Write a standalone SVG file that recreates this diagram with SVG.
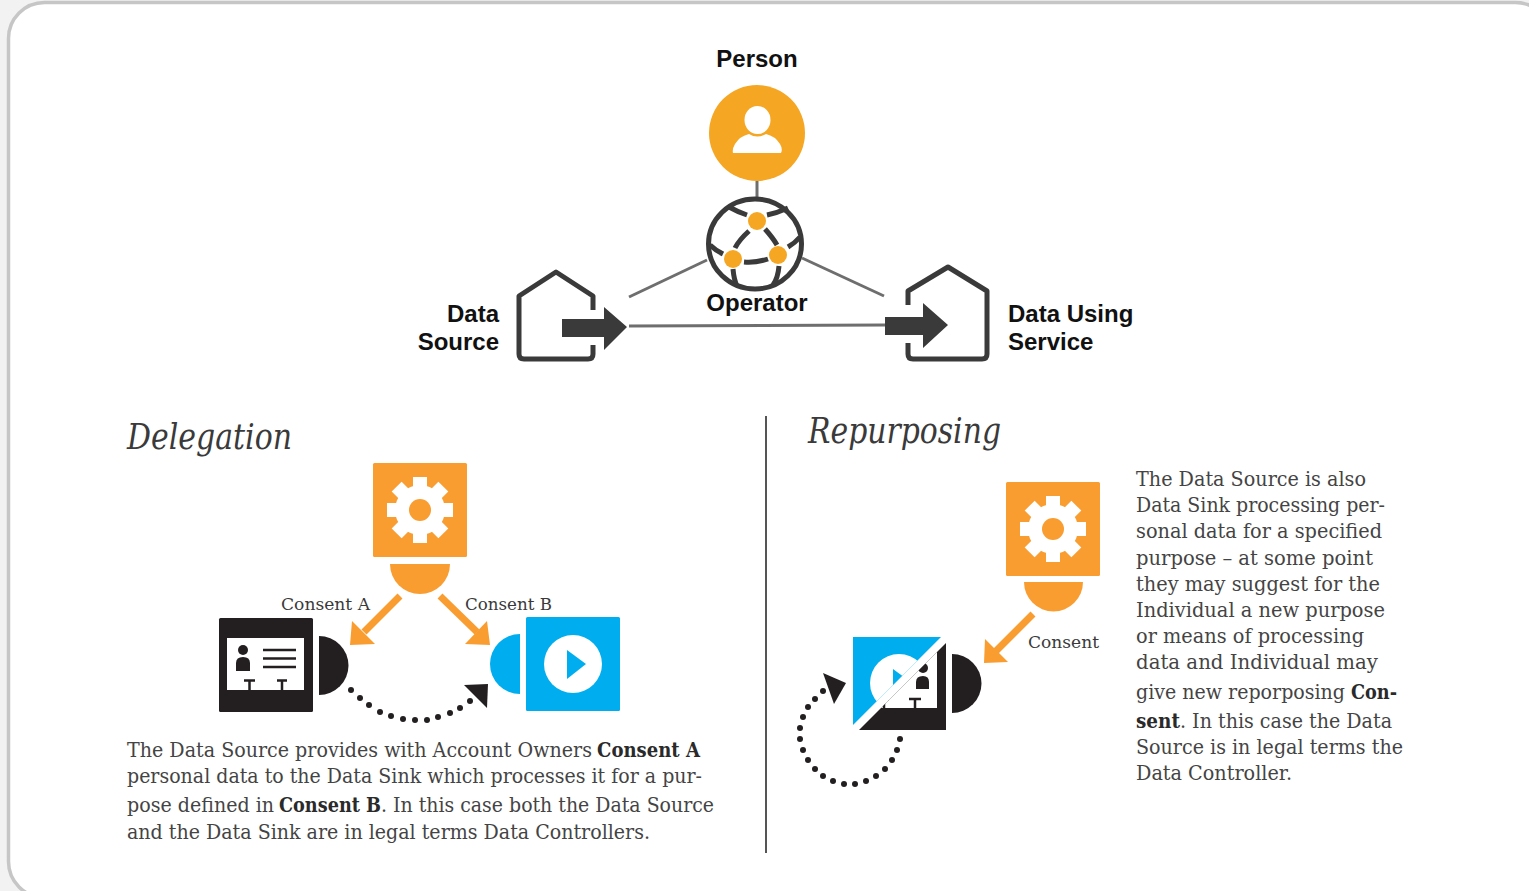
<svg xmlns="http://www.w3.org/2000/svg" width="1529" height="891" viewBox="0 0 1529 891">
<style>
.lb{font-family:"Liberation Sans",Arial,sans-serif;font-weight:700;font-size:24px;fill:#111}
.h{font-family:"DejaVu Serif","Liberation Serif",serif;font-style:italic;font-size:35px;fill:#3a3a3a}
.b{font-family:"DejaVu Serif","Liberation Serif",serif;font-size:19.5px;fill:#444}
.bb{font-weight:700;fill:#2a2a2a}
.c{font-family:"DejaVu Serif","Liberation Serif",serif;font-size:17px;fill:#3a3a3a}
.o{fill:#f99d31}.k{fill:#231f20}.u{fill:#00aeef}.w{fill:#fff}
.g{fill:none;stroke:#6e6e6e;stroke-width:3}
.s{fill:none;stroke:#3a3a3a;stroke-width:5;stroke-linejoin:round;stroke-linecap:butt}
.a{fill:#f99d31;stroke:none}
.sh{stroke:#f99d31;stroke-width:7;fill:none}
.d{fill:#231f20}
</style>
<defs>
<g id="gear">
<circle r="25" class="w"/>
<g class="w">
<rect x="-7" y="-33" width="14" height="66"/>
<rect x="-7" y="-33" width="14" height="66" transform="rotate(45)"/>
<rect x="-7" y="-33" width="14" height="66" transform="rotate(90)"/>
<rect x="-7" y="-33" width="14" height="66" transform="rotate(135)"/>
</g>
<circle r="11" class="o"/>
</g>
<clipPath id="blueTri"><polygon points="853,637 941,637 853,725"/></clipPath>
<clipPath id="blackTri"><polygon points="946,643 946,730 859,730"/></clipPath>
</defs>
<rect width="1529" height="891" fill="#f2f2f2"/>
<rect id="panel" x="8.500" y="2.500" width="1543" height="895" rx="36" fill="#fff" stroke="#c6c6c6" stroke-width="3.500"/>

<g id="connectors">
<path class="g" d="M757 181V198"/>
<path class="g" d="M629 297L707 260"/>
<path class="g" d="M802 258L884 296"/>
<path class="g" d="M629 326L885 325"/>
<path class="sh" d="M400 596L364 632"/>
<polygon class="a" points="352,621 375,644 350,645"/>
<path class="sh" d="M440 596L477 632"/>
<polygon class="a" points="487,621 465,644 490,645"/>
<path class="sh" d="M1033 614L996 651"/>
<polygon class="a" points="985,639 1008,662 984,663"/>
<g class="d">
<circle cx="351" cy="690" r="3"/><circle cx="360" cy="698" r="3"/><circle cx="369" cy="705" r="3"/><circle cx="380" cy="712" r="3"/><circle cx="391" cy="716" r="3"/><circle cx="403" cy="719" r="3"/><circle cx="415" cy="720" r="3"/><circle cx="427" cy="720" r="3"/><circle cx="438" cy="717" r="3"/><circle cx="450" cy="713" r="3"/><circle cx="460" cy="708" r="3"/><circle cx="470" cy="701" r="3"/>
<polygon points="464,685 488,684 487,708"/>
<circle cx="823" cy="691" r="3"/><circle cx="815" cy="699" r="3"/><circle cx="808" cy="707" r="3"/><circle cx="803" cy="717" r="3"/><circle cx="800" cy="728" r="3"/><circle cx="800" cy="739" r="3"/><circle cx="803" cy="750" r="3"/><circle cx="808" cy="760" r="3"/><circle cx="815" cy="769" r="3"/><circle cx="823" cy="776" r="3"/><circle cx="833" cy="781" r="3"/><circle cx="844" cy="784" r="3"/><circle cx="855" cy="784" r="3"/><circle cx="866" cy="781" r="3"/><circle cx="876" cy="776" r="3"/><circle cx="885" cy="769" r="3"/><circle cx="892" cy="760" r="3"/><circle cx="897" cy="750" r="3"/><circle cx="900" cy="739" r="3"/>
<polygon points="823,673 846,683 834,704"/>
</g>
</g>

<g id="person">
<circle cx="757" cy="133" r="48" fill="#f5a623"/>
<ellipse cx="757.500" cy="120" rx="13" ry="14" class="w"/>
<path class="w" d="M733 153Q732 149 735 144Q740 136 749 134Q757 139 766 134Q775 136 780 144Q783 149 781 153Z"/>
<text class="lb" x="757" y="67" text-anchor="middle">Person</text>
</g>

<g id="operator">
<ellipse cx="755" cy="244" rx="46.500" ry="45" fill="#fff" stroke="#3a3a3a" stroke-width="5"/>
<g fill="none" stroke="#3a3a3a" stroke-width="5">
<path d="M729 207Q738 212 747 215"/>
<path d="M767 215Q777 213 788 208"/>
<path d="M749 231Q739 240 735 248"/>
<path d="M765 229Q773 238 777 245"/>
<path d="M744 262Q756 263 768 259"/>
<path d="M723 254Q715 250 710 245"/>
<path d="M788 247Q795 243 800 237"/>
<path d="M733 269Q734 280 737 286"/>
<path d="M779 266Q778 278 773 285"/>
</g>
<g fill="#f5a623">
<circle cx="757" cy="221" r="9"/>
<circle cx="733" cy="259" r="9"/>
<circle cx="778" cy="255" r="9"/>
</g>
<text class="lb" x="757" y="311" text-anchor="middle">Operator</text>
</g>

<g id="data-source">
<path class="s" d="M593 310V296L556 272L519 296V354Q519 359 524 359H588Q593 359 593 354V345"/>
<polygon fill="#3a3a3a" points="562,319 604,319 604,307 627,327 604,350 604,337 562,337"/>
<text class="lb" x="499" y="322" text-anchor="end">Data</text>
<text class="lb" x="499" y="350" text-anchor="end">Source</text>
</g>

<g id="data-using-service">
<path class="s" d="M908 305V291L948 267L987 291V354Q987 359 982 359H913Q908 359 908 354V343"/>
<polygon fill="#3a3a3a" points="885,317 923,317 923,303 948,325 923,348 923,335 885,335"/>
<text class="lb" x="1008" y="322">Data Using</text>
<text class="lb" x="1008" y="350">Service</text>
</g>

<path id="divider" d="M766 416V853" stroke="#555" stroke-width="2" fill="none"/>

<g id="delegation">
<text class="h" x="127" y="449" textLength="165" lengthAdjust="spacingAndGlyphs">Delegation</text>
<text class="b" x="127" y="757" textLength="465" lengthAdjust="spacingAndGlyphs">The Data Source provides with Account Owners</text>
<text class="b bb" x="597" y="757" textLength="103" lengthAdjust="spacingAndGlyphs">Consent A</text>
<text class="b" x="127" y="783" textLength="575" lengthAdjust="spacingAndGlyphs">personal data to the Data Sink which processes it for a pur-</text>
<text class="b" x="127" y="812" textLength="147" lengthAdjust="spacingAndGlyphs">pose defined in</text>
<text class="b bb" x="279" y="812" textLength="102" lengthAdjust="spacingAndGlyphs">Consent B</text>
<text class="b" x="381" y="812" textLength="333" lengthAdjust="spacingAndGlyphs">. In this case both the Data Source</text>
<text class="b" x="127" y="839" textLength="523" lengthAdjust="spacingAndGlyphs">and the Data Sink are in legal terms Data Controllers.</text>
</g>

<g id="controller-a">
<rect x="373" y="463" width="94" height="94" rx="1.500" class="o"/>
<use href="#gear" x="420" y="510"/>
<path class="o" d="M390 564H450A30 30 0 0 1 390 564Z"/>
</g>
<text class="c" x="281" y="610" textLength="89" lengthAdjust="spacingAndGlyphs">Consent A</text>
<text class="c" x="465" y="610" textLength="87" lengthAdjust="spacingAndGlyphs">Consent B</text>

<g id="data-source-a">
<rect x="219" y="618" width="94" height="94" rx="1.500" class="k"/>
<rect x="227" y="638" width="77" height="52" class="w"/>
<circle cx="243" cy="650" r="5" class="k"/>
<path class="k" d="M236 671V663Q236 657 243 657Q250 657 250 663V671Z"/>
<path d="M263 650H296M263 658.500H296M263 667H296" stroke="#231f20" stroke-width="2.500" fill="none"/>
<path d="M244 680.500H255M249.500 680.500V690M277 680.500H287M282 680.500V690" stroke="#231f20" stroke-width="2.500" fill="none"/>
<path class="k" d="M319 636A29.500 29.500 0 0 1 319 695Z"/>
</g>

<g id="data-sink-b">
<rect x="526" y="617" width="94" height="94" rx="1.500" class="u"/>
<circle cx="573" cy="664" r="29" class="w"/>
<polygon class="u" points="567,650 586,664 567,679"/>
<path class="u" d="M520 634A30 30 0 0 0 520 694Z"/>
</g>

<g id="repurposing">
<text class="h" x="808" y="443" textLength="193" lengthAdjust="spacingAndGlyphs">Repurposing</text>
<text class="b" x="1136" y="486" textLength="230" lengthAdjust="spacingAndGlyphs">The Data Source is also</text>
<text class="b" x="1136" y="512" textLength="249" lengthAdjust="spacingAndGlyphs">Data Sink processing per-</text>
<text class="b" x="1136" y="538" textLength="246" lengthAdjust="spacingAndGlyphs">sonal data for a specified</text>
<text class="b" x="1136" y="565" textLength="237" lengthAdjust="spacingAndGlyphs">purpose – at some point</text>
<text class="b" x="1136" y="591" textLength="244" lengthAdjust="spacingAndGlyphs">they may suggest for the</text>
<text class="b" x="1136" y="617" textLength="249" lengthAdjust="spacingAndGlyphs">Individual a new purpose</text>
<text class="b" x="1136" y="643" textLength="228" lengthAdjust="spacingAndGlyphs">or means of processing</text>
<text class="b" x="1136" y="669" textLength="242" lengthAdjust="spacingAndGlyphs">data and Individual may</text>
<text class="b" x="1136" y="699" textLength="209" lengthAdjust="spacingAndGlyphs">give new reporposing</text>
<text class="b bb" x="1351" y="699" textLength="46" lengthAdjust="spacingAndGlyphs">Con-</text>
<text class="b bb" x="1136" y="728" textLength="44" lengthAdjust="spacingAndGlyphs">sent</text>
<text class="b" x="1180" y="728" textLength="212" lengthAdjust="spacingAndGlyphs">. In this case the Data</text>
<text class="b" x="1136" y="754" textLength="267" lengthAdjust="spacingAndGlyphs">Source is in legal terms the</text>
<text class="b" x="1136" y="780" textLength="156" lengthAdjust="spacingAndGlyphs">Data Controller.</text>
</g>

<g id="controller-r">
<rect x="1006" y="482" width="94" height="94" rx="1.500" class="o"/>
<use href="#gear" x="1053" y="529"/>
<path class="o" d="M1024 582H1083A29.500 29.500 0 0 1 1024 582Z"/>
</g>
<text class="c" x="1028" y="648" textLength="71" lengthAdjust="spacingAndGlyphs">Consent</text>

<g id="source-sink">
<polygon class="u" points="853,637 941,637 853,725"/>
<g clip-path="url(#blueTri)">
<circle cx="899" cy="683" r="29" class="w"/>
<polygon class="u" points="893,669 912,683 893,698"/>
</g>
<polygon class="k" points="946,643 946,730 859,730"/>
<g clip-path="url(#blackTri)">
<rect x="860" y="640" width="77" height="68" class="w"/>
<circle cx="923" cy="668" r="5" class="k"/>
<path class="k" d="M916 689V682Q916 676 923 676Q929 676 929 682V689Z"/>
<path d="M909 699H921M915 699V708M878 699H889M884 699V708" stroke="#231f20" stroke-width="2.500" fill="none"/>
</g>
<path class="k" d="M952 654A29.500 29.500 0 0 1 952 713Z"/>
</g>
</svg>
